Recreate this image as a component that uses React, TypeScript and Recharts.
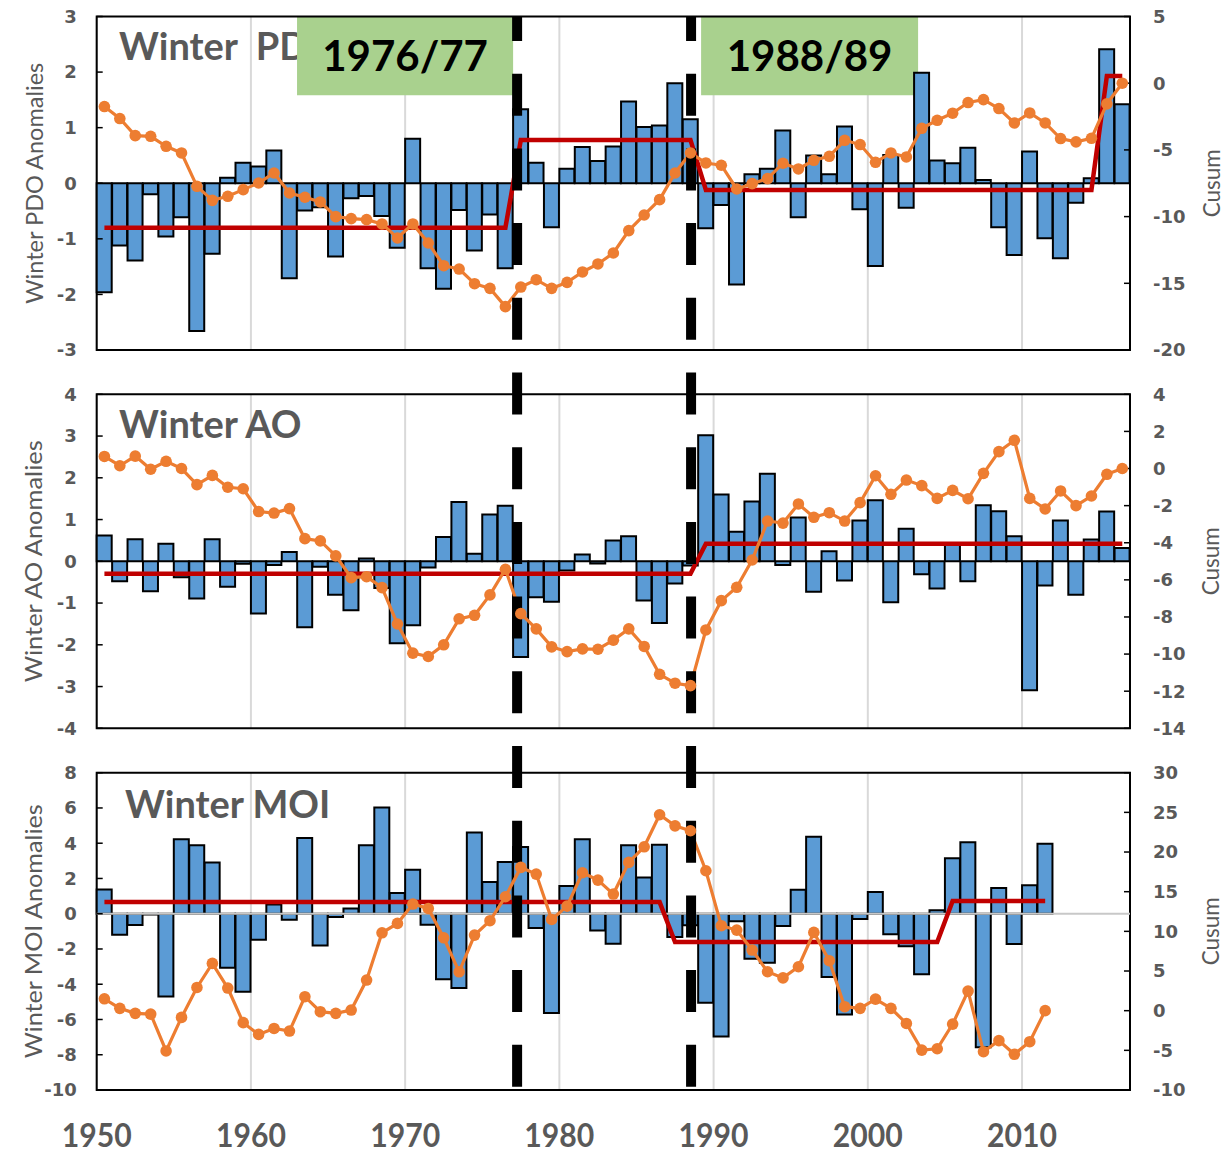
import React from 'react';
import {
  ComposedChart,
  Bar,
  Line,
  XAxis,
  YAxis,
  CartesianGrid,
  ReferenceLine,
  ReferenceArea,
} from 'recharts';

// Winter seasons, labelled by year
const YEARS = [
  1950, 1951, 1952, 1953, 1954, 1955, 1956, 1957, 1958, 1959,
  1960, 1961, 1962, 1963, 1964, 1965, 1966, 1967, 1968, 1969,
  1970, 1971, 1972, 1973, 1974, 1975, 1976, 1977, 1978, 1979,
  1980, 1981, 1982, 1983, 1984, 1985, 1986, 1987, 1988, 1989,
  1990, 1991, 1992, 1993, 1994, 1995, 1996, 1997, 1998, 1999,
  2000, 2001, 2002, 2003, 2004, 2005, 2006, 2007, 2008, 2009,
  2010, 2011, 2012, 2013, 2014, 2015, 2016,
];

// Pacific Decadal Oscillation
const PDO_ANOMALY = [
  -1.96, -1.12, -1.39, -0.2, -0.96, -0.61, -2.66, -1.27, 0.1, 0.37,
  0.3, 0.59, -1.71, -0.49, -0.43, -1.32, -0.27, -0.23, -0.59, -1.16,
  0.8, -1.53, -1.9, -0.48, -1.21, -0.56, -1.53, 1.33, 0.37, -0.79,
  0.26, 0.65, 0.4, 0.66, 1.47, 1.01, 1.04, 1.8, 1.15, -0.81,
  -0.39, -1.82, 0.16, 0.26, 0.95, -0.61, 0.5, 0.16, 1.02, -0.47,
  -1.49, 0.51, -0.44, 1.99, 0.41, 0.36, 0.64, 0.06, -0.79, -1.29,
  0.57, -0.99, -1.35, -0.35, 0.09, 2.41, 1.42,
];
const PDO_CUSUM = [
  -1.75, -2.65, -3.93, -3.98, -4.73, -5.23, -7.73, -8.78, -8.48, -7.98,
  -7.48, -6.73, -8.23, -8.55, -8.9, -10.0, -10.15, -10.23, -10.55, -11.6,
  -10.55, -11.98, -13.68, -13.93, -15.03, -15.38, -16.75, -15.28, -14.73, -15.38,
  -14.93, -14.15, -13.55, -12.73, -11.05, -9.88, -8.73, -6.73, -5.23, -5.98,
  -6.15, -7.93, -7.53, -7.15, -6.0, -6.43, -5.78, -5.48, -4.28, -4.6,
  -5.93, -5.23, -5.53, -3.38, -2.78, -2.25, -1.45, -1.23, -1.9, -2.98,
  -2.23, -2.98, -4.15, -4.4, -4.13, -1.55, 0.0,
];
const PDO_REGIMES = [
  { from: 1950, to: 1976, level: -0.8 },
  { from: 1977, to: 1988, level: 0.78 },
  { from: 1989, to: 2014, level: -0.12 },
  { from: 2015, to: 2016, level: 1.93 },
];

// Arctic Oscillation
const AO_ANOMALY = [
  0.62, -0.48, 0.53, -0.72, 0.42, -0.38, -0.89, 0.53, -0.61, -0.06,
  -1.25, -0.09, 0.22, -1.58, -0.13, -0.8, -1.17, 0.07, -0.64, -1.96,
  -1.53, -0.15, 0.58, 1.42, 0.18, 1.12, 1.33, -2.29, -0.86, -0.97,
  -0.22, 0.16, -0.05, 0.5, 0.6, -0.94, -1.48, -0.53, -0.1, 3.02,
  1.6, 0.71, 1.43, 2.1, -0.09, 1.05, -0.73, 0.24, -0.46, 0.98,
  1.46, -0.98, 0.78, -0.31, -0.65, 0.4, -0.48, 1.34, 1.2, 0.6,
  -3.09, -0.58, 0.98, -0.8, 0.52, 1.19, 0.32,
];
const AO_CUSUM = [
  0.65, 0.15, 0.67, -0.04, 0.39, 0.0, -0.87, -0.37, -1.01, -1.09,
  -2.32, -2.4, -2.16, -3.78, -3.9, -4.71, -5.88, -5.83, -6.42, -8.38,
  -9.95, -10.13, -9.5, -8.1, -7.91, -6.81, -5.43, -7.82, -8.64, -9.61,
  -9.87, -9.72, -9.74, -9.25, -8.64, -9.59, -11.09, -11.57, -11.7, -8.7,
  -7.12, -6.4, -4.93, -2.83, -2.94, -1.91, -2.63, -2.38, -2.83, -1.84,
  -0.39, -1.39, -0.62, -0.92, -1.61, -1.18, -1.63, -0.26, 0.91, 1.52,
  -1.61, -2.18, -1.21, -2.0, -1.48, -0.31, 0.0,
];
const AO_REGIMES = [
  { from: 1950, to: 1988, level: -0.3 },
  { from: 1989, to: 2016, level: 0.42 },
];

// Mediterranean Oscillation Index (series ends in 2011)
const MOI_ANOMALY = [
  1.38, -1.19, -0.64, -0.05, -4.69, 4.23, 3.89, 2.91, -3.06, -4.42,
  -1.47, 0.53, -0.34, 4.29, -1.8, -0.19, 0.3, 3.88, 6.03, 1.17,
  2.5, -0.62, -3.72, -4.22, 4.61, 1.8, 2.93, 3.78, -0.81, -5.63,
  1.57, 4.23, -0.95, -1.7, 3.88, 2.06, 3.91, -1.32, -0.66, -5.05,
  -6.96, -0.43, -2.55, -2.78, -0.7, 1.36, 4.37, -3.59, -5.71, -0.3,
  1.23, -1.17, -1.85, -3.44, 0.19, 3.14, 4.06, -7.58, 1.46, -1.72,
  1.61, 3.97,
];
const MOI_CUSUM = [
  1.5, 0.29, -0.34, -0.43, -5.08, -0.85, 2.93, 5.96, 2.85, -1.51,
  -2.99, -2.24, -2.57, 1.76, -0.13, -0.34, 0.08, 3.86, 9.82, 11.0,
  13.44, 12.89, 9.19, 4.9, 9.53, 11.34, 14.36, 18.06, 17.22, 11.5,
  13.18, 17.39, 16.46, 14.7, 18.69, 20.66, 24.7, 23.3, 22.68, 17.64,
  10.71, 10.16, 7.64, 4.91, 4.13, 5.54, 9.87, 6.3, 0.5, 0.29,
  1.46, 0.29, -1.61, -4.97, -4.8, -1.69, 2.47, -5.17, -3.78, -5.5,
  -3.91, 0.0,
];
const MOI_REGIMES = [
  { from: 1950, to: 1986, level: 0.66 },
  { from: 1987, to: 2004, level: -1.61 },
  { from: 2005, to: 2011, level: 0.72 },
];

// Axis ticks
const DECADES = [1950, 1960, 1970, 1980, 1990, 2000, 2010];
const PDO_TICKS = [-3, -2, -1, 0, 1, 2, 3];
const PDO_CUSUM_TICKS = [-20, -15, -10, -5, 0, 5];
const AO_TICKS = [-4, -3, -2, -1, 0, 1, 2, 3, 4];
const AO_CUSUM_TICKS = [-14, -12, -10, -8, -6, -4, -2, 0, 2, 4];
const MOI_TICKS = [-10, -8, -6, -4, -2, 0, 2, 4, 6, 8];
const MOI_CUSUM_TICKS = [-10, -5, 0, 5, 10, 15, 20, 25, 30];

// Regime shifts and their labels (label boxes sit in the PDO panel)
const SHIFT_LINES = [1977.26, 1988.54];
const SHIFT_BOXES = [
  { text: '1976/77', from: 1962.99, to: 1977.0 },
  { text: '1988/89', from: 1989.19, to: 2003.26 },
];
const SHIFT_BOX_BOTTOM = 1.585;

// ---- layout ----
const PAGE_W = 1224;
const PAGE_H = 1154;
const PLOT_LEFT = 96.7;
const PLOT_RIGHT = 1130;
const AXIS_W = 60;
const DASH_ON = 42;
const DASH_OFF = 32.7;
const DASH_ORIGIN = -1;
const X_DOMAIN: [number, number] = [1950, 2017];

const GRAY = '#595959';
const BAR_FILL = '#5b9bd5';
const CUSUM_COLOR = '#ed7d31';
const MEAN_COLOR = '#c00000';

const tickStyle = {
  fontFamily: 'DejaVu Sans',
  fontWeight: 'bold' as const,
  fontSize: 18,
  fill: GRAY,
};

type Regime = { from: number; to: number; level: number };

// one row per winter; `t` is the centre of the year on a continuous time axis
function buildRows(anomaly: number[], cusum: number[], regimes: Regime[]) {
  return YEARS.map((year, i) => {
    const r = regimes.find((s) => year >= s.from && year <= s.to);
    return {
      year,
      t: year + 0.5,
      anomaly: i < anomaly.length ? anomaly[i] : null,
      cusum: i < cusum.length ? cusum[i] : null,
      mean: r ? r.level : null,
    };
  });
}

const YearTick = (props: any) => {
  const { x, y, payload } = props;
  return (
    <text
      x={x}
      y={y + 57}
      textAnchor="middle"
      fontFamily="Lato"
      fontWeight="bold"
      fontSize={32}
      fill={GRAY}
      textLength={70}
      lengthAdjust="spacingAndGlyphs"
    >
      {payload.value}
    </text>
  );
};

type PanelProps = {
  rows: ReturnType<typeof buildRows>;
  top: number;
  height: number;
  plotTop: number;
  plotBottom: number;
  leftTicks: number[];
  rightTicks: number[];
  title: string;
  titleX: number;
  titleBaseline: number;
  axisTitle: string;
  axisTitleLen: number;
  showYears?: boolean;
  boxes?: boolean;
  zeroLine?: boolean;
  dashFrom: number;
  dashTo: number;
};

function Panel(p: PanelProps) {
  const lMin = p.leftTicks[0];
  const lMax = p.leftTicks[p.leftTicks.length - 1];
  const rMin = p.rightTicks[0];
  const rMax = p.rightTicks[p.rightTicks.length - 1];
  const yearAxisH = p.showYears ? p.top + p.height - p.plotBottom : 0;
  const margin = {
    top: p.plotTop - p.top,
    bottom: p.showYears ? 0 : p.top + p.height - p.plotBottom,
    left: PLOT_LEFT - AXIS_W,
    right: PAGE_W - PLOT_RIGHT - AXIS_W,
  };
  // left-axis value at a page y coordinate (used to run the shift lines across panel gaps)
  const valueAt = (py: number) =>
    lMax - ((py - p.plotTop) / (p.plotBottom - p.plotTop)) * (lMax - lMin);
  const period = DASH_ON + DASH_OFF;
  const dashOffset = (((p.dashFrom - DASH_ORIGIN) % period) + period) % period;
  const midY = (p.plotTop + p.plotBottom) / 2 - p.top;

  return (
    <div style={{ position: 'absolute', left: 0, top: p.top }}>
      <ComposedChart
        width={PAGE_W}
        height={p.height}
        data={p.rows}
        margin={margin}
        barCategoryGap={0}
        barGap={0}
      >
        <CartesianGrid
          xAxisId="num"
          yAxisId="left"
          horizontal={false}
          stroke="#d9d9d9"
          strokeWidth={2}
        />
        <XAxis xAxisId="cat" dataKey="year" type="category" height={0} hide />
        <XAxis
          xAxisId="num"
          dataKey="t"
          type="number"
          domain={X_DOMAIN}
          allowDataOverflow
          ticks={DECADES}
          hide={!p.showYears}
          height={yearAxisH}
          axisLine={false}
          tickLine={false}
          tickSize={0}
          tickMargin={0}
          interval={0}
          tick={(tp: any) => <YearTick {...tp} />}
        />
        <YAxis
          yAxisId="left"
          width={AXIS_W}
          domain={[lMin, lMax]}
          ticks={p.leftTicks}
          allowDataOverflow
          interval={0}
          axisLine={false}
          tickLine={{ stroke: '#000', strokeWidth: 1.5 }}
          tickSize={-6}
          tickMargin={26}
          tick={tickStyle}
        />
        <YAxis
          yAxisId="right"
          orientation="right"
          width={AXIS_W}
          domain={[rMin, rMax]}
          ticks={p.rightTicks}
          allowDataOverflow
          interval={0}
          axisLine={false}
          tickLine={{ stroke: '#000', strokeWidth: 1.5 }}
          tickSize={-6}
          tickMargin={29}
          tick={tickStyle}
        />

        <text
          x={p.titleX}
          y={p.titleBaseline - p.top}
          fontFamily="Lato"
          fontWeight="bold"
          fontSize={38}
          fill={GRAY}
          style={{ whiteSpace: 'pre' }}
        >
          {p.title}
        </text>
        <text
          x={33}
          y={midY}
          transform={`rotate(-90 33 ${midY})`}
          textAnchor="middle"
          dominantBaseline="central"
          fontFamily="Lato"
          fontSize={24}
          fill={GRAY}
          textLength={p.axisTitleLen}
          lengthAdjust="spacingAndGlyphs"
        >
          {p.axisTitle}
        </text>
        <text
          x={1210}
          y={midY}
          transform={`rotate(-90 1210 ${midY})`}
          textAnchor="middle"
          dominantBaseline="central"
          fontFamily="Lato"
          fontSize={24}
          fill={GRAY}
          textLength={68}
          lengthAdjust="spacingAndGlyphs"
        >
          Cusum
        </text>

        {p.boxes &&
          SHIFT_BOXES.map((b) => (
            <ReferenceArea
              key={b.text}
              xAxisId="num"
              yAxisId="left"
              x1={b.from}
              x2={b.to}
              y1={SHIFT_BOX_BOTTOM}
              y2={lMax}
              ifOverflow="visible"
              fill="#a9d18e"
              fillOpacity={1}
              stroke="none"
              label={{
                value: b.text,
                position: 'center',
                fill: '#000',
                fontSize: 42,
                fontWeight: 'bold',
                fontFamily: 'Lato',
              }}
            />
          ))}

        <Bar
          xAxisId="cat"
          yAxisId="left"
          dataKey="anomaly"
          fill={BAR_FILL}
          stroke="#000"
          strokeWidth={2}
          isAnimationActive={false}
        />
        {p.zeroLine && (
          <ReferenceLine
            xAxisId="num"
            yAxisId="left"
            y={0}
            stroke="#c8c8c8"
            strokeWidth={2}
          />
        )}
        <Line
          xAxisId="cat"
          yAxisId="left"
          dataKey="mean"
          stroke={MEAN_COLOR}
          strokeWidth={4.5}
          dot={false}
          isAnimationActive={false}
        />
        <Line
          xAxisId="cat"
          yAxisId="right"
          dataKey="cusum"
          stroke={CUSUM_COLOR}
          strokeWidth={3.2}
          dot={{ r: 5.8, fill: CUSUM_COLOR, stroke: CUSUM_COLOR, strokeWidth: 0 }}
          isAnimationActive={false}
        />

        <ReferenceArea
          xAxisId="num"
          yAxisId="left"
          x1={X_DOMAIN[0]}
          x2={X_DOMAIN[1]}
          y1={lMin}
          y2={lMax}
          ifOverflow="visible"
          fill="none"
          stroke="#000"
          strokeWidth={2}
        />

        {SHIFT_LINES.map((x) => (
          <ReferenceLine
            key={x}
            xAxisId="num"
            yAxisId="left"
            segment={[
              { x, y: valueAt(p.dashFrom) },
              { x, y: valueAt(p.dashTo) },
            ]}
            ifOverflow="visible"
            stroke="#000"
            strokeWidth={10}
            strokeDasharray={`${DASH_ON} ${DASH_OFF}`}
            strokeDashoffset={dashOffset}
          />
        ))}
      </ComposedChart>
    </div>
  );
}

const pdoRows = buildRows(PDO_ANOMALY, PDO_CUSUM, PDO_REGIMES);
const aoRows = buildRows(AO_ANOMALY, AO_CUSUM, AO_REGIMES);
const moiRows = buildRows(MOI_ANOMALY, MOI_CUSUM, MOI_REGIMES);

export default function App() {
  return (
    <div
      style={{
        position: 'absolute',
        left: 0,
        top: 0,
        width: PAGE_W,
        height: PAGE_H,
        background: '#fff',
        overflow: 'hidden',
      }}
    >
      <Panel
        rows={pdoRows}
        top={0}
        height={372}
        plotTop={16.5}
        plotBottom={350}
        leftTicks={PDO_TICKS}
        rightTicks={PDO_CUSUM_TICKS}
        title="Winter  PDO"
        titleX={119}
        titleBaseline={60}
        axisTitle="Winter PDO Anomalies"
        axisTitleLen={241}
        boxes
        dashFrom={16.5}
        dashTo={372}
      />
      <Panel
        rows={aoRows}
        top={372}
        height={378}
        plotTop={394.3}
        plotBottom={728.3}
        leftTicks={AO_TICKS}
        rightTicks={AO_CUSUM_TICKS}
        title="Winter AO"
        titleX={119}
        titleBaseline={438.3}
        axisTitle="Winter AO Anomalies"
        axisTitleLen={242}
        dashFrom={372}
        dashTo={750}
      />
      <Panel
        rows={moiRows}
        top={750}
        height={404}
        plotTop={772.7}
        plotBottom={1090}
        leftTicks={MOI_TICKS}
        rightTicks={MOI_CUSUM_TICKS}
        title="Winter MOI"
        titleX={125}
        titleBaseline={818.3}
        axisTitle="Winter MOI Anomalies"
        axisTitleLen={254}
        showYears
        zeroLine
        dashFrom={750}
        dashTo={1088}
      />
    </div>
  );
}
